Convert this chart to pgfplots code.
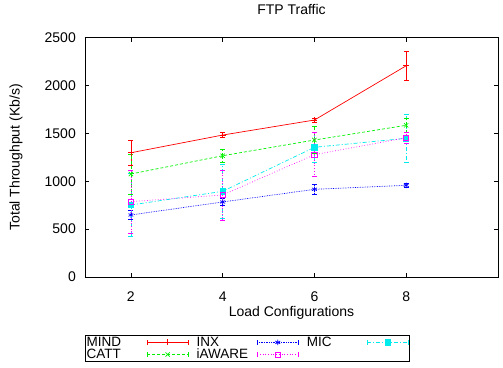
\documentclass[border=0pt]{standalone}
\usepackage{fontspec}
\setmainfont{Liberation Sans}
\usepackage{pgfplots}
\pgfplotsset{compat=1.18}
\definecolor{gred}{RGB}{255,0,0}
\definecolor{ggreen}{RGB}{0,240,0}
\definecolor{gblue}{RGB}{0,0,255}
\definecolor{gmag}{RGB}{255,0,255}
\definecolor{gcyan}{RGB}{0,235,235}
\pgfplotsset{
  gleg/.style={legend image code/.code={
    \draw[mark=none,##1] (0cm,0cm)--(1.44cm,0cm);
    \draw[mark=none,##1,solid] (0cm,-0.09cm)--(0cm,0.09cm) (1.44cm,-0.09cm)--(1.44cm,0.09cm);
    \draw[mark repeat=2,mark phase=2,##1,draw=none] plot coordinates {(0cm,0cm)(0.72cm,0cm)(1.44cm,0cm)};
  }},
  eb/.style={/pgfplots/error bars/y dir=both, /pgfplots/error bars/y explicit,
    /pgfplots/error bars/error mark options={line width=0.6pt, mark size=2.5pt, rotate=90}}
}
\begin{document}
\fontsize{14}{16}\selectfont
\begin{tikzpicture}
\begin{axis}[
  scale only axis,
  width=413pt, height=239.3pt,
  xmin=1, xmax=10, ymin=0, ymax=2500,
  xtick={2,4,6,8},
  ytick={0,500,1000,1500,2000,2500},
  tick align=inside,
  major tick length=4pt,
  axis line style={line width=0.9pt},
  tick style={line width=0.6pt, black},
  /pgf/number format/assume math mode=true,
  /pgf/number format/1000 sep={},
  tick label style={font=\fontsize{14}{16}\selectfont},
  yticklabel style={inner sep=0pt, xshift=-9pt},
  xticklabel style={inner sep=0pt, yshift=-15pt},
  title={FTP Traffic},
  title style={at={(axis description cs:0.5,1.092)}, anchor=center, font=\fontsize{14}{16}\selectfont},
  xlabel={Load Configurations},
  xlabel style={at={(axis description cs:0.5,-0.150)}, anchor=center, font=\fontsize{14}{16}\selectfont},
  ylabel={Total Throughput (Kb/s)},
  ylabel style={at={(axis description cs:-0.167,0.5)}, anchor=center, rotate=0, font=\fontsize{14}{16}\selectfont},
  legend columns=3,
  legend plot pos=right,
  legend cell align=left,
  legend style={at={(axis description cs:0,-0.2424)}, anchor=north west,
    draw=black, line width=0.9pt, font=\fontsize{13.5}{13.5}\selectfont,
    inner sep=1pt, row sep=0pt,
    /tikz/every odd column/.style={column sep=3pt},
    /tikz/every even column/.style={column sep=8pt},
    nodes={inner sep=0.2pt, line width=0.6pt}},
  gleg,
]
\addplot[gred, line width=0.7pt, mark=+, mark size=3pt, eb] coordinates {
  (2,1298) +- (0,130)
  (4,1483) +- (0,25)
  (6,1640) +- (0,20)
  (8,2207) +- (0,152)
};
\addlegendentry{\hbox to 57pt{MIND\hfil}}
\addplot[gblue, line width=0.7pt, densely dotted, mark=asterisk, mark size=2.8pt, mark options={solid}, eb] coordinates {
  (2,648) +- (0,45)
  (4,784) +- (0,40)
  (6,916) +- (0,50)
  (8,958) +- (0,20)
};
\addlegendentry{\hbox to 57pt{INX\hfil}}
\addplot[gcyan, line width=0.7pt, dash pattern=on 4pt off 2pt on 1pt off 2pt, mark=square*, mark size=2.6pt, mark options={solid}, eb] coordinates {
  (2,752) +- (0,330)
  (4,895) +- (0,280)
  (6,1355) +- (0,160)
  (8,1449) +- (0,250)
};
\addlegendentry{\hbox to 57pt{MIC\hfil}}
\addplot[ggreen, line width=0.7pt, dash pattern=on 3pt off 2pt, mark=x, mark size=3pt, mark options={solid}, eb] coordinates {
  (2,1076) +- (0,210)
  (4,1267) +- (0,68)
  (6,1431) +- (0,140)
  (8,1585) +- (0,70)
};
\addlegendentry{\hbox to 57pt{CATT\hfil}}
\addplot[gmag, line width=0.7pt, dotted, mark=square, mark size=2.6pt, mark options={solid}, eb] coordinates {
  (2,787) +- (0,330)
  (4,857) +- (0,260)
  (6,1278) +- (0,230)
  (8,1455) +- (0,60)
};
\addlegendentry{\hbox to 57pt{iAWARE\hfil}}
\end{axis}
\pgfresetboundingbox
\path (-85pt,-90pt) rectangle (418pt,277pt);
\end{tikzpicture}
\end{document}
